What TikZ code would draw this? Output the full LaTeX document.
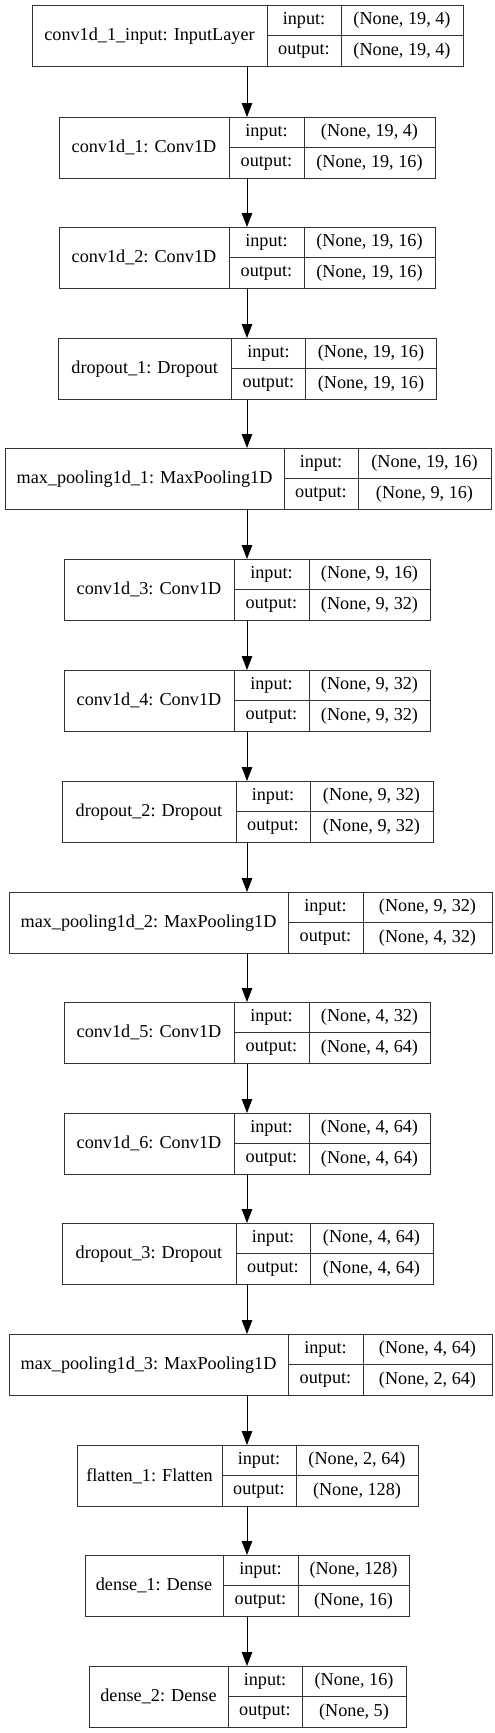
\documentclass[tikz,border=0pt]{standalone}
\usepackage{fontspec}
\setmainfont{Liberation Serif}
\usetikzlibrary{arrows.meta}
% one keras layer record: id, top, left, div1, div2, right, name, in, out
\newcommand{\layer}[9]{%
	\node[rec, minimum width={#6-#3}, minimum height=61.5, anchor=north west] (#1) at (#3,-#2) {};
	\node[rec, minimum width={#4-#3}, minimum height=61.5, anchor=north west] (#1-n) at (#3,-#2) {#7};
	\node[rec, minimum width={#5-#4}, minimum height=30.75, anchor=north west] (#1-i) at (#4,-#2) {input:};
	\node[rec, minimum width={#5-#4}, minimum height=30.75, anchor=south west] (#1-o) at (#4,-#2-61.5) {output:};
	\node[rec, minimum width={#6-#5}, minimum height=30.75, anchor=north west] (#1-iv) at (#5,-#2) {#8};
	\node[rec, minimum width={#6-#5}, minimum height=30.75, anchor=south west] (#1-ov) at (#5,-#2-61.5) {#9};
}
\begin{document}
\begin{tikzpicture}[x=1pt,y=1pt,
	rec/.style={draw=black!80,line width=0.95pt,inner sep=0pt,outer sep=0pt,font=\fontsize{18.2}{22}\selectfont},
	flow/.style={-{Triangle[length=14pt,width=10.5pt]},line width=1pt}]
	\useasboundingbox (0,0) rectangle (495,-1733);
	\layer{L1}{5}{32}{267}{341}{463}{conv1d\_1\_input: InputLayer}{(None, 19, 4)}{(None, 19, 4)}
	\layer{L2}{117}{59}{229}{304}{435}{conv1d\_1: Conv1D}{(None, 19, 4)}{(None, 19, 16)}
	\layer{L3}{227}{59}{229}{304}{435}{conv1d\_2: Conv1D}{(None, 19, 16)}{(None, 19, 16)}
	\layer{L4}{338}{58}{231.5}{305.5}{436.5}{dropout\_1: Dropout}{(None, 19, 16)}{(None, 19, 16)}
	\layer{L5}{448}{5}{284}{358}{491}{max\_pooling1d\_1: MaxPooling1D}{(None, 19, 16)}{(None, 9, 16)}
	\layer{L6}{559}{64}{234}{309}{430}{conv1d\_3: Conv1D}{(None, 9, 16)}{(None, 9, 32)}
	\layer{L7}{670}{64}{234}{309}{430}{conv1d\_4: Conv1D}{(None, 9, 32)}{(None, 9, 32)}
	\layer{L8}{781}{62}{236}{310}{433}{dropout\_2: Dropout}{(None, 9, 32)}{(None, 9, 32)}
	\layer{L9}{892}{9}{288}{363}{492}{max\_pooling1d\_2: MaxPooling1D}{(None, 9, 32)}{(None, 4, 32)}
	\layer{L10}{1002}{64}{234}{309}{430}{conv1d\_5: Conv1D}{(None, 4, 32)}{(None, 4, 64)}
	\layer{L11}{1113}{64}{234}{309}{430}{conv1d\_6: Conv1D}{(None, 4, 64)}{(None, 4, 64)}
	\layer{L12}{1223}{62}{236}{310}{433}{dropout\_3: Dropout}{(None, 4, 64)}{(None, 4, 64)}
	\layer{L13}{1334}{9}{288}{363}{492}{max\_pooling1d\_3: MaxPooling1D}{(None, 4, 64)}{(None, 2, 64)}
	\layer{L14}{1445}{77}{222}{296}{418}{flatten\_1: Flatten}{(None, 2, 64)}{(None, 128)}
	\layer{L15}{1555}{85}{223}{298}{409}{dense\_1: Dense}{(None, 128)}{(None, 16)}
	\layer{L16}{1666}{89}{228}{302}{406}{dense\_2: Dense}{(None, 16)}{(None, 5)}
	\foreach \a/\b in {1/2,2/3,3/4,4/5,5/6,6/7,7/8,8/9,9/10,10/11,11/12,12/13,13/14,14/15,15/16}
		\draw[flow] (L\a.south -| 247,0) -- (L\b.north -| 247,0);
\end{tikzpicture}
\end{document}
